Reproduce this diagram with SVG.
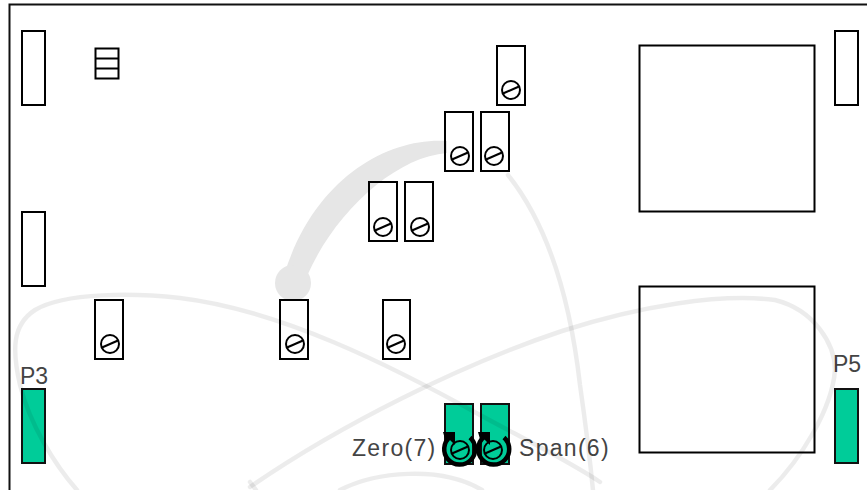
<svg xmlns="http://www.w3.org/2000/svg" width="867" height="490" viewBox="0 0 867 490">
<style>
.wm{fill:none;stroke:#000;stroke-opacity:.075;stroke-width:4.500;stroke-linecap:round}
.b{fill:none;stroke:#000;stroke-width:2}
.g{fill:#00cc99;stroke:#111;stroke-width:2}
.s{fill:none;stroke:#000;stroke-width:2}
.r{fill:none;stroke:#000;stroke-width:4.500}
text{font-family:"Liberation Sans",Arial,sans-serif;font-size:23px;fill:#444}
.l{letter-spacing:1.300px}
</style>
<defs>
<g id="screw"><circle r="9" class="s"/><line x1="-8" y1="3.500" x2="8" y2="-3.500" class="s"/></g>
</defs>
<rect width="867" height="490" fill="#fff"/>
<g id="p3"><rect class="g" x="22" y="389" width="23" height="74"/><text x="20" y="384">P3</text></g>
<g id="p5"><rect class="g" x="835" y="389" width="23" height="74"/><text x="833" y="372">P5</text></g>
<g id="zero"><rect class="g" x="445" y="404" width="28" height="60"/><use href="#screw" x="460" y="450"/><path class="r" d="M450 437A15.500 15.500 0 1 0 470 437.500"/><path d="M443 432H455V445L449 439H445Z" fill="#000"/><text class="l" x="352" y="456">Zero(7)</text></g>
<g id="span"><rect class="g" x="481" y="404" width="28" height="60"/><use href="#screw" x="493" y="450"/><path class="r" d="M484 437A15.500 15.500 0 1 0 504 437.500"/><path d="M478 432H490V445L484 439H480Z" fill="#000"/><text class="l" x="519" y="456">Span(6)</text></g>
<g id="watermark">
<path class="wm" d="M77 490C55 465 30 425 20 385C12 350 12 325 35 310C65 292 135 293 180 298C280 310 390 365 480 415C530 442 570 462 600 482"/>
<path class="wm" d="M250 487C340 425 460 365 562 331C640 306 720 293 775 300C815 310 835 345 835 370C832 410 800 460 770 490"/>
<path class="wm" d="M508 175C540 215 568 280 580 385C585 420 590 460 593 490"/>
<path class="wm" d="M340 490C375 472 440 465 482 490"/>
<path class="wm" d="M250 482L256 490"/>
<path d="M447 141C390 137 316 176 285 272L307 276C335 212 395 157 447 153Z" fill="#e6e6e6"/>
<circle cx="293" cy="283" r="18" fill="#e6e6e6"/>
</g>
<rect id="board" x="9.500" y="4.500" width="870" height="500" fill="none" stroke="#111" stroke-width="2"/>
<g id="conn-1"><rect class="b" x="22" y="31" width="23" height="74"/></g>
<g id="conn-2"><rect class="b" x="22" y="212" width="23" height="74"/></g>
<g id="conn-3"><rect class="b" x="835" y="31" width="23" height="74"/></g>
<g id="chip"><rect class="b" x="95.500" y="48.500" width="23" height="30"/><path class="s" d="M95 58.500H119M95 68.500H119"/></g>
<g id="box-1"><rect class="b" x="639.500" y="45.500" width="175" height="166"/></g>
<g id="box-2"><rect class="b" x="639.500" y="286.500" width="175" height="166"/></g>
<g id="t1"><rect class="b" x="497" y="46" width="28" height="59"/><use href="#screw" x="511" y="90"/></g>
<g id="t2"><rect class="b" x="445" y="112" width="28" height="59"/><use href="#screw" x="460" y="156"/></g>
<g id="t3"><rect class="b" x="481" y="112" width="28" height="59"/><use href="#screw" x="494" y="156"/></g>
<g id="t4"><rect class="b" x="369" y="182" width="28" height="59"/><use href="#screw" x="383" y="227"/></g>
<g id="t5"><rect class="b" x="405" y="182" width="28" height="59"/><use href="#screw" x="420" y="227"/></g>
<g id="t6"><rect class="b" x="95" y="300" width="28" height="59"/><use href="#screw" x="110" y="344"/></g>
<g id="t7"><rect class="b" x="280" y="300" width="28" height="59"/><use href="#screw" x="295" y="344"/></g>
<g id="t8"><rect class="b" x="383" y="300" width="27" height="59"/><use href="#screw" x="396" y="344"/></g>
</svg>
